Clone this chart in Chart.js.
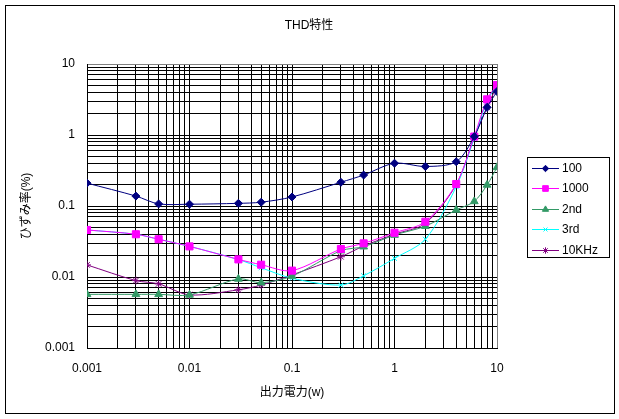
<!DOCTYPE html>
<html>
<head>
<meta charset="utf-8">
<title>THD特性</title>
<script src="https://cdn.jsdelivr.net/npm/chart.js@4.4.1/dist/chart.umd.min.js"></script>
<style>
  body { margin: 0; background: #fff; }
  canvas { display: block; }
</style>
</head>
<body>
<canvas id="thd-chart" width="619" height="419"></canvas>
<script>
// output power (W) and distortion (%)
var power    = [0.001, 0.003, 0.005, 0.01, 0.03, 0.05, 0.1, 0.3, 0.5, 1, 2, 4, 6, 8, 10];
var thd100   = [0.21, 0.138, 0.107, 0.106, 0.109, 0.113, 0.134, 0.216, 0.273, 0.40, 0.36, 0.42, 0.95, 2.45, 4.1];
var thd1000  = [0.046, 0.040, 0.034, 0.027, 0.0177, 0.0149, 0.0123, 0.0248, 0.0298, 0.042, 0.060, 0.204, 0.95, 3.18, 5.06];
var thd2nd   = [0.0057, 0.0057, 0.0057, 0.0056, 0.0094, 0.0083, 0.0103, 0.0235, 0.0267, 0.039, 0.052, 0.088, 0.116, 0.198, 0.35];
var thd3rd   = [0.046, 0.040, 0.034, 0.027, 0.0176, 0.0135, 0.0096, 0.0077, 0.0104, 0.0183, 0.034, 0.187, 0.90, 3.0, 5.0];
var thd10k   = [0.0148, 0.0089, 0.0080, 0.0056, 0.0066, 0.0077, 0.0107, 0.0193, 0.0273, 0.040, 0.057, 0.20, 0.93, 2.45, 5.0];
var seriesNames = ["100", "1000", "2nd", "3rd", "10KHz"];
var decadeLabels = [0.001, 0.01, 0.1, 1, 10];
var chartTitle = 'THD特性';

var FONT = "'Liberation Sans', 'Noto Sans CJK JP', sans-serif";

function logTicks(scale) {
  var list = [];
  for (var e = -3; e <= 0; e++) {
    for (var m = 1; m <= 9; m++) {
      list.push({ value: parseFloat((m * Math.pow(10, e)).toPrecision(3)) });
    }
  }
  list.push({ value: 10 });
  scale.ticks = list;
}

function decadeOnly(value) {
  return decadeLabels.indexOf(value) >= 0 ? String(value) : '';
}

function gridColor(ctx) {
  return ctx.tick && ctx.tick.value === 10 ? '#808080' : '#000000';
}

function makeSet(label, values, color, style, radius) {
  return {
    label: label,
    data: power.map(function (x, i) { return { x: x, y: values[i] }; }),
    borderColor: color,
    backgroundColor: color,
    borderWidth: 1,
    pointStyle: style,
    pointRadius: radius,
    pointBorderColor: color,
    pointBackgroundColor: color,
    pointBorderWidth: 1,
    tension: 0.3
  };
}

// white page, outer border and the title centred on the whole chart
var frame = {
  id: 'frame',
  beforeDraw: function (chart) {
    var c = chart.ctx;
    c.save();
    c.fillStyle = '#ffffff';
    c.fillRect(0, 0, chart.width, chart.height);
    c.strokeStyle = '#000000';
    c.lineWidth = 1;
    c.strokeRect(5.5, 5.5, 609, 408);
    c.fillStyle = '#000000';
    c.font = '12px ' + FONT;
    c.textAlign = 'center';
    c.textBaseline = 'middle';
    c.fillText(chartTitle, 309, 26);
    c.restore();
  }
};

var sideLegend = {
  id: 'sideLegend',
  afterDraw: function (chart) {
    var c = chart.ctx;
    c.save();
    c.strokeStyle = '#000000';
    c.lineWidth = 1;
    c.strokeRect(527.5, 157.5, 82, 100);
    c.font = '12px ' + FONT;
    c.textBaseline = 'middle';
    c.textAlign = 'left';
    chart.data.datasets.forEach(function (ds, i) {
      var y = Math.round(167.5 + i * 20.5) + 0.5;
      c.strokeStyle = ds.borderColor;
      c.beginPath();
      c.moveTo(532, y);
      c.lineTo(559, y);
      c.stroke();
      c.fillStyle = ds.borderColor;
      Chart.helpers.drawPoint(c, {
        pointStyle: ds.pointStyle,
        radius: ds.pointRadius * 0.8,
        borderWidth: 1,
        rotation: 0
      }, 545.5, y);
      c.fillStyle = '#000000';
      c.fillText(ds.label, 562, y + 0.5);
    });
    c.restore();
  }
};

new Chart(document.getElementById('thd-chart'), {
  type: 'line',
  data: {
    datasets: [
      makeSet(seriesNames[0], thd100, '#000080', 'rectRot', 4),
      makeSet(seriesNames[1], thd1000, '#ff00ff', 'rect', 5),
      makeSet(seriesNames[2], thd2nd, '#339966', 'triangle', 4.5),
      makeSet(seriesNames[3], thd3rd, '#00ffff', 'crossRot', 3.5),
      makeSet(seriesNames[4], thd10k, '#800080', 'star', 4)
    ]
  },
  options: {
    responsive: false,
    animation: false,
    devicePixelRatio: 1,
    layout: { padding: { left: 8, right: 122, top: 64, bottom: 0 } },
    plugins: {
      legend: { display: false },
      tooltip: { enabled: false },
      title: { display: false }
    },
    scales: {
      x: {
        type: 'logarithmic',
        min: 0.001,
        max: 10,
        afterBuildTicks: logTicks,
        afterFit: function (s) { s.height = 71; },
        grid: { color: gridColor, lineWidth: 1, drawTicks: false },
        border: { color: '#000', width: 1 },
        ticks: {
          callback: decadeOnly,
          autoSkip: false,
          maxRotation: 0,
          padding: 13,
          color: '#000',
          font: { family: FONT, size: 12 }
        },
        title: {
          display: true,
          text: '出力電力(w)',
          color: '#000',
          font: { family: FONT, size: 12 },
          padding: { top: 0, bottom: 19 }
        }
      },
      y: {
        type: 'logarithmic',
        min: 0.001,
        max: 10,
        afterBuildTicks: logTicks,
        afterFit: function (s) { s.width = 79; },
        grid: { color: gridColor, lineWidth: 1, drawTicks: false },
        border: { color: '#000', width: 1 },
        ticks: {
          callback: decadeOnly,
          autoSkip: false,
          padding: 12,
          color: '#000',
          font: { family: FONT, size: 12 }
        },
        title: {
          display: true,
          text: 'ひずみ率(%)',
          color: '#000',
          font: { family: FONT, size: 12 },
          padding: { top: 11, bottom: 0 }
        }
      }
    }
  },
  plugins: [frame, sideLegend]
});
</script>
</body>
</html>
